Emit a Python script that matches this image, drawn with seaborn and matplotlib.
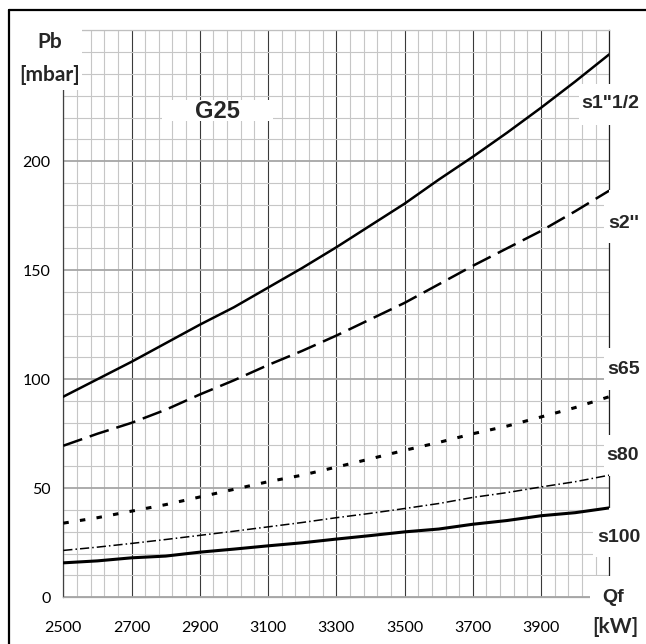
import numpy as np
import pandas as pd
import matplotlib.pyplot as plt
import seaborn as sns
from matplotlib.patches import Rectangle
from matplotlib.lines import Line2D
from matplotlib.ticker import FixedLocator, MultipleLocator

# values (Qf in kW, Pb in mbar)
qf = [2500, 2600, 2700, 2800, 2900, 3000, 3100, 3200, 3300,
      3400, 3500, 3600, 3700, 3800, 3900, 4000, 4100]
s1_12 = [92, 100, 108, 116.5, 125, 133, 142, 151, 160.5,
         170.5, 180.5, 191.5, 202, 213, 224.5, 236.5, 249]
s2 = [69.5, 75, 80, 86, 93, 99.5, 106.5, 113, 120,
      127.5, 135, 143.5, 152, 160, 168, 177, 186.5]
s65 = [34, 36.5, 39.5, 42.5, 46, 49.5, 53, 56, 59.7,
       63.5, 67.4, 71, 75, 78.5, 82.7, 87, 92]
s80 = [21.5, 23, 24.7, 26.5, 28.4, 30.3, 32.3, 34.3, 36.5,
       38.5, 40.7, 43, 45.8, 48, 50.6, 53, 56]
s100 = [15.8, 16.7, 18.1, 18.9, 20.7, 22.1, 23.6, 25, 26.7,
        28.3, 30, 31.3, 33.5, 35.2, 37.4, 38.8, 41]

x_ticks = [2500, 2700, 2900, 3100, 3300, 3500, 3700, 3900]
y_ticks = [0, 50, 100, 150, 200]

sns.set_style("white")
plt.rcParams['font.family'] = ['Lato', 'DejaVu Sans']

W, H = 646, 644
def fx(px):
    return px / W
def fy(py):
    return 1 - py / H

fig = plt.figure(figsize=(W / 100, H / 100), dpi=100)
ax = fig.add_axes([fx(63.3), fy(597.3), (609.3 - 63.3) / W, (597.3 - 30.3) / H])

series = [
    (s1_12, '-', 1.8),
    (s2, (0, (8, 3.2)), 1.8),
    (s65, (0, (1.8, 3.7)), 2.2),
    (s80, (0, (6, 2, 1, 2)), 1.1),
    (s100, '-', 2.2),
]
for vals, ls, lw in series:
    df = pd.DataFrame({'Qf': qf, 'Pb': vals})
    sns.lineplot(data=df, x='Qf', y='Pb', ax=ax, color='black',
                 linestyle=ls, linewidth=lw, legend=False, zorder=3)

ax.set_xlim(2500, 4100)
ax.set_ylim(0, 260)
ax.set_xticks(x_ticks)
ax.set_yticks(y_ticks)
ax.xaxis.set_minor_locator(FixedLocator(np.arange(2500, 4101, 40)))
ax.yaxis.set_minor_locator(MultipleLocator(10))
ax.set_axisbelow(True)
ax.grid(which='minor', color='#c6c6c6', linewidth=0.8)
ax.grid(which='major', axis='x', color='#3a3a3a', linewidth=0.8)
ax.grid(which='major', axis='y', color='#a6a6a6', linewidth=1.3)
ax.tick_params(which='minor', length=0)
ax.tick_params(which='major', length=5, color='#909090', width=0.8,
               labelsize=11.5, labelcolor='black')
ax.tick_params(axis='x', pad=12)
ax.tick_params(axis='y', pad=4)
ax.set_xlabel('')
ax.set_ylabel('')
ax.spines['left'].set_color('#404040')
ax.spines['right'].set_color('#202020')
ax.spines['top'].set_color('#bfbfbf')
ax.spines['bottom'].set_color('#a6a6a6')
for s in ax.spines.values():
    s.set_linewidth(0.9)
    s.set_zorder(1)

# white label boxes that cover grid and spines but sit under the curves
boxes = [
    (0, 22, 82, 90),
    (162, 100, 273, 121),
    (579, 84, 646, 125),
    (604, 190, 646, 243),
    (604, 348, 646, 390),
    (604, 435, 646, 476),
    (593, 508, 646, 557),
    (590, 576, 646, 644),
]
for x0, y0, x1, y1 in boxes:
    ax.add_patch(Rectangle((fx(x0), fy(y1)), (x1 - x0) / W, (y1 - y0) / H,
                           transform=fig.transFigure, facecolor='white',
                           edgecolor='none', zorder=2, clip_on=False))

lato = dict(family=['Lato', 'DejaVu Sans'], fontweight='bold', fontsize=15,
            ha='center', va='center', zorder=3)
arial = dict(family=['Liberation Sans', 'DejaVu Sans'], fontweight='bold',
             fontsize=14, ha='center', va='center', zorder=3)
fig.text(fx(50), fy(42), 'Pb', **lato)
fig.text(fx(50), fy(75), '[mbar]', **lato)
fig.text(fx(615), fy(627), '[kW]', **lato)
fig.text(fx(217), fy(111), 'G25', **{**arial, 'fontsize': 17})
fig.text(fx(610), fy(104), 's1"1/2', **arial)
fig.text(fx(624), fy(224), "s2''", **arial)
fig.text(fx(624), fy(369), 's65', **arial)
fig.text(fx(623), fy(455), 's80', **arial)
fig.text(fx(619), fy(537), 's100', **arial)
fig.text(fx(613), fy(598), 'Qf', **arial)

# outer frame (only top and left edges show)
fig.add_artist(Line2D([fx(9), fx(646)], [fy(10), fy(10)], color='black',
                      linewidth=1.6, transform=fig.transFigure, zorder=4))
fig.add_artist(Line2D([fx(9), fx(9)], [fy(10), fy(644)], color='black',
                      linewidth=1.6, transform=fig.transFigure, zorder=4))

fig.savefig('out.png', dpi=100)
